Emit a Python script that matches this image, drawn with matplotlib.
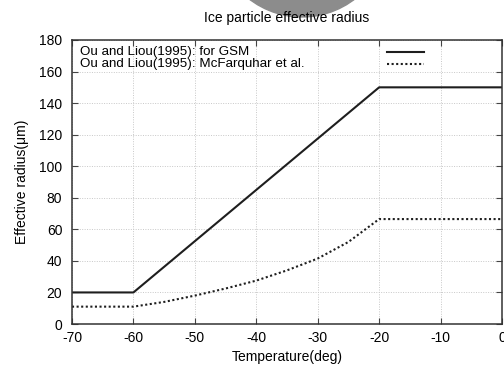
import matplotlib
matplotlib.use("Agg")
import matplotlib.pyplot as plt
from matplotlib.patches import Ellipse

# temperatures (deg) and effective radius (um)
gsm_temp = [-70, -60, -20, 0]
gsm_re = [20, 20, 150, 150]

mcf_temp = [-70, -65, -60, -55, -50, -45, -40, -35, -30, -25, -20, -10, 0]
mcf_re = [11, 11, 11, 14, 18, 22.5, 27.5, 34, 41.5, 52, 66.5, 66.5, 66.5]

labels = ["Ou and Liou(1995): for GSM", "Ou and Liou(1995): McFarquhar et al."]
xticks = list(range(-70, 1, 10))
yticks = list(range(0, 181, 20))

plt.rcParams["font.family"] = ["Liberation Sans", "DejaVu Sans"]
plt.rcParams["font.size"] = 10
plt.rcParams["axes.unicode_minus"] = False

fig = plt.figure(figsize=(5.04, 3.65), dpi=100)
ax = fig.add_axes([72 / 504, 1 - 324 / 365, 430 / 504, 284 / 365])

# grey blob sitting over the top of the original image
blob = Ellipse((302 / 504, 1 + 69.5 / 365), 173 / 504, 173 / 365,
               transform=fig.transFigure, color="#8c8c8c", zorder=0)
fig.patches.append(blob)

line_color = "#1e1e1e"
styles = ["-", (0, (1, 1.2))]
ax.plot(gsm_temp, gsm_re, color=line_color, lw=1.5, ls=styles[0])
ax.plot(mcf_temp, mcf_re, color=line_color, lw=1.5, ls=styles[1])

ax.set_xlim(-70, 0)
ax.set_ylim(0, 180)
ax.set_xticks(xticks)
ax.set_yticks(yticks)
ax.tick_params(direction="in", top=True, right=True, length=4, width=0.8,
               color="#444444")
ax.tick_params(axis="x", pad=5)
ax.tick_params(axis="y", pad=7)
ax.grid(True, color="#c8c8c8", ls=(0, (1, 1.5)), lw=0.7)
for s in ax.spines.values():
    s.set_color("#333333")
    s.set_linewidth(1.1)

ax.set_xlabel("Temperature(deg)", labelpad=4)
ax.set_ylabel("Effective radius(\u03bcm)", labelpad=7)
fig.text(287 / 504, 1 - 18 / 365, "Ice particle effective radius",
         ha="center", va="center")

# gnuplot style key: text on the left, line sample on the right
key_rows = [0.957, 0.915]
for lab, st, yk in zip(labels, styles, key_rows):
    ax.text(0.019, yk, lab, transform=ax.transAxes, ha="left", va="center",
            fontsize=9.6)
    ax.plot([0.733, 0.819], [yk, yk], transform=ax.transAxes,
            color=line_color, lw=1.5, ls=st)

fig.savefig("out.png", dpi=100)
